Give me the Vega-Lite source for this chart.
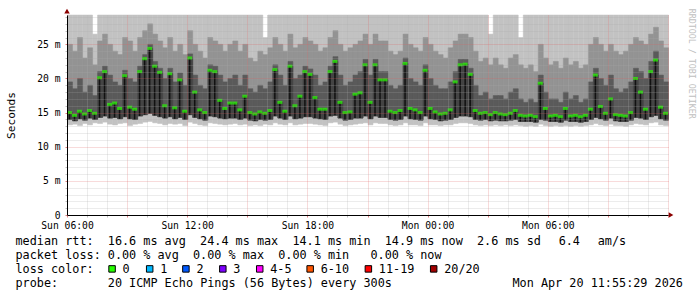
{
"$schema":"https://vega.github.io/schema/vega-lite/v6.json",
"width":601,"height":200,
"autosize":{"type":"none"},
"padding":{"left":67,"top":15,"right":29,"bottom":82},
"background":"white",
"config":{"view":{"stroke":null},"font":"DejaVu Sans Mono"},
"title":{"text":"RRDTOOL / TOBI OETIKER","orient":"right","anchor":"start","angle":90,"fontSize":8.3,"font":"DejaVu Sans Mono","fontWeight":"normal","color":"#c0c0c0","offset":5},
"datasets":{
"smoke":[
{"t":0,"m":15.0,"n":13.2,"a":14.0,"b":19.5,"c":25.0,"h":29.3},
{"t":0.25,"m":14.6,"n":13.3,"a":13.8,"b":18.5,"c":24.0,"h":29.3},
{"t":0.5,"m":15.2,"n":13.1,"a":14.1,"b":20.0,"c":26.0,"h":29.3},
{"t":0.75,"m":14.8,"n":13.4,"a":13.9,"b":18.0,"c":23.0,"h":29.3},
{"t":1,"m":15.3,"n":13.2,"a":14.2,"b":19.0,"c":24.5,"h":29.3},
{"t":1.25,"m":14.9,"n":13.5,"a":14.0,"b":17.5,"c":22.0,"h":26.5},
{"t":1.5,"m":20.1,"n":13.4,"a":14.3,"b":21.0,"c":25.5,"h":29.3},
{"t":1.75,"m":21.0,"n":13.6,"a":14.5,"b":21.8,"c":26.5,"h":29.3},
{"t":2,"m":16.2,"n":13.3,"a":14.2,"b":20.5,"c":25.0,"h":29.3},
{"t":2.25,"m":16.4,"n":13.2,"a":14.3,"b":19.5,"c":24.0,"h":29.3},
{"t":2.5,"m":15.6,"n":13.4,"a":14.1,"b":19.0,"c":23.5,"h":29.3},
{"t":2.75,"m":20.4,"n":13.5,"a":14.4,"b":21.2,"c":26.0,"h":29.3},
{"t":3,"m":15.8,"n":13.1,"a":14.1,"b":20.0,"c":25.5,"h":29.3},
{"t":3.25,"m":15.5,"n":13.3,"a":14.0,"b":19.5,"c":24.0,"h":29.3},
{"t":3.5,"m":21.0,"n":13.4,"a":14.5,"b":21.8,"c":26.0,"h":29.3},
{"t":3.75,"m":22.9,"n":13.6,"a":14.7,"b":23.5,"c":27.0,"h":29.3},
{"t":4,"m":24.4,"n":13.7,"a":14.9,"b":25.0,"c":28.0,"h":29.3},
{"t":4.25,"m":21.8,"n":13.5,"a":14.6,"b":22.5,"c":26.5,"h":29.3},
{"t":4.5,"m":20.9,"n":13.4,"a":14.4,"b":21.5,"c":25.5,"h":29.3},
{"t":4.75,"m":16.0,"n":13.2,"a":14.2,"b":20.0,"c":24.5,"h":29.3},
{"t":5,"m":20.7,"n":13.4,"a":14.4,"b":21.5,"c":26.0,"h":29.3},
{"t":5.25,"m":15.7,"n":13.3,"a":14.1,"b":19.5,"c":24.0,"h":29.3},
{"t":5.5,"m":19.8,"n":13.4,"a":14.3,"b":20.8,"c":25.0,"h":29.3},
{"t":5.75,"m":15.2,"n":13.1,"a":14.0,"b":19.0,"c":23.5,"h":29.3},
{"t":6,"m":23.0,"n":13.6,"a":14.7,"b":23.6,"c":27.0,"h":29.3},
{"t":6.25,"m":18.0,"n":13.4,"a":14.3,"b":20.5,"c":25.0,"h":29.3},
{"t":6.5,"m":15.4,"n":13.2,"a":14.1,"b":19.0,"c":24.0,"h":29.3},
{"t":6.75,"m":15.0,"n":13.1,"a":13.9,"b":18.5,"c":23.0,"h":29.3},
{"t":7,"m":21.2,"n":13.5,"a":14.5,"b":22.0,"c":26.0,"h":29.3},
{"t":7.25,"m":21.0,"n":13.4,"a":14.4,"b":21.8,"c":25.5,"h":29.3},
{"t":7.5,"m":16.8,"n":13.3,"a":14.2,"b":20.5,"c":25.0,"h":29.3},
{"t":7.75,"m":15.6,"n":13.2,"a":14.1,"b":19.5,"c":24.0,"h":29.3},
{"t":8,"m":16.4,"n":13.3,"a":14.2,"b":20.0,"c":25.0,"h":29.3},
{"t":8.25,"m":16.4,"n":13.4,"a":14.2,"b":20.5,"c":25.5,"h":29.3},
{"t":8.5,"m":15.4,"n":13.2,"a":14.0,"b":19.0,"c":24.0,"h":29.3},
{"t":8.75,"m":17.4,"n":13.3,"a":14.2,"b":20.5,"c":25.0,"h":29.3},
{"t":9,"m":15.0,"n":13.1,"a":13.9,"b":18.5,"c":23.0,"h":29.3},
{"t":9.25,"m":14.8,"n":13.2,"a":13.8,"b":18.0,"c":22.5,"h":29.3},
{"t":9.5,"m":15.1,"n":13.1,"a":14.0,"b":19.0,"c":24.0,"h":29.3},
{"t":9.75,"m":14.9,"n":13.3,"a":13.9,"b":18.5,"c":23.5,"h":26.0},
{"t":10,"m":15.3,"n":13.2,"a":14.0,"b":19.5,"c":24.5,"h":29.3},
{"t":10.25,"m":21.3,"n":13.5,"a":14.5,"b":22.0,"c":26.0,"h":29.3},
{"t":10.5,"m":16.5,"n":13.3,"a":14.2,"b":20.5,"c":25.0,"h":29.3},
{"t":10.75,"m":15.2,"n":13.2,"a":14.0,"b":19.0,"c":24.0,"h":29.3},
{"t":11,"m":21.8,"n":13.5,"a":14.5,"b":22.5,"c":26.5,"h":29.3},
{"t":11.25,"m":16.0,"n":13.2,"a":14.1,"b":20.0,"c":24.5,"h":29.3},
{"t":11.5,"m":17.4,"n":13.3,"a":14.2,"b":20.5,"c":25.0,"h":29.3},
{"t":11.75,"m":21.0,"n":13.4,"a":14.4,"b":21.8,"c":26.0,"h":29.3},
{"t":12,"m":20.6,"n":13.4,"a":14.4,"b":21.4,"c":25.5,"h":29.3},
{"t":12.25,"m":17.2,"n":13.3,"a":14.2,"b":20.5,"c":25.0,"h":29.3},
{"t":12.5,"m":15.5,"n":13.2,"a":14.1,"b":19.0,"c":24.0,"h":29.3},
{"t":12.75,"m":15.5,"n":13.1,"a":14.0,"b":19.5,"c":24.5,"h":29.3},
{"t":13,"m":21.0,"n":13.5,"a":14.5,"b":21.8,"c":26.0,"h":29.3},
{"t":13.25,"m":22.5,"n":13.6,"a":14.6,"b":23.2,"c":27.0,"h":29.3},
{"t":13.5,"m":16.5,"n":13.3,"a":14.2,"b":20.5,"c":25.0,"h":29.3},
{"t":13.75,"m":15.0,"n":13.1,"a":13.9,"b":19.0,"c":24.0,"h":29.3},
{"t":14,"m":15.1,"n":13.2,"a":14.0,"b":19.5,"c":24.5,"h":29.3},
{"t":14.25,"m":17.7,"n":13.3,"a":14.2,"b":20.5,"c":25.0,"h":29.3},
{"t":14.5,"m":17.9,"n":13.4,"a":14.2,"b":21.0,"c":25.5,"h":29.3},
{"t":14.75,"m":22.0,"n":13.5,"a":14.5,"b":22.8,"c":26.5,"h":29.3},
{"t":15,"m":16.5,"n":13.2,"a":14.1,"b":20.5,"c":25.0,"h":29.3},
{"t":15.25,"m":22.0,"n":13.5,"a":14.5,"b":22.8,"c":26.5,"h":29.3},
{"t":15.5,"m":19.8,"n":13.4,"a":14.3,"b":21.0,"c":25.5,"h":29.3},
{"t":15.75,"m":19.8,"n":13.4,"a":14.3,"b":21.0,"c":25.5,"h":29.3},
{"t":16,"m":15.2,"n":13.2,"a":14.0,"b":19.0,"c":24.0,"h":29.3},
{"t":16.25,"m":15.0,"n":13.1,"a":13.9,"b":18.5,"c":23.5,"h":29.3},
{"t":16.5,"m":15.3,"n":13.2,"a":14.0,"b":19.0,"c":24.0,"h":29.3},
{"t":16.75,"m":22.2,"n":13.5,"a":14.5,"b":23.0,"c":26.5,"h":29.3},
{"t":17,"m":15.6,"n":13.2,"a":14.1,"b":20.0,"c":25.0,"h":29.3},
{"t":17.25,"m":15.4,"n":13.2,"a":14.0,"b":19.5,"c":24.5,"h":29.3},
{"t":17.5,"m":15.0,"n":13.1,"a":13.9,"b":19.0,"c":24.0,"h":29.3},
{"t":17.75,"m":21.2,"n":13.5,"a":14.5,"b":22.0,"c":26.0,"h":29.3},
{"t":18,"m":15.6,"n":13.2,"a":14.1,"b":20.0,"c":25.0,"h":29.3},
{"t":18.25,"m":15.1,"n":13.2,"a":14.0,"b":19.0,"c":24.0,"h":29.3},
{"t":18.5,"m":14.8,"n":13.1,"a":13.8,"b":18.5,"c":23.5,"h":29.3},
{"t":18.75,"m":14.9,"n":13.2,"a":13.9,"b":18.5,"c":23.0,"h":29.3},
{"t":19,"m":15.4,"n":13.2,"a":14.0,"b":19.5,"c":24.5,"h":29.3},
{"t":19.25,"m":19.5,"n":13.4,"a":14.3,"b":21.0,"c":25.5,"h":29.3},
{"t":19.5,"m":22.0,"n":13.5,"a":14.5,"b":22.8,"c":26.5,"h":29.3},
{"t":19.75,"m":22.1,"n":13.5,"a":14.5,"b":22.8,"c":26.5,"h":29.3},
{"t":20,"m":20.6,"n":13.4,"a":14.4,"b":21.5,"c":26.0,"h":29.3},
{"t":20.25,"m":15.3,"n":13.2,"a":14.0,"b":19.0,"c":24.0,"h":29.3},
{"t":20.5,"m":14.9,"n":13.1,"a":13.9,"b":17.5,"c":22.5,"h":29.3},
{"t":20.75,"m":15.0,"n":13.2,"a":14.0,"b":18.0,"c":23.0,"h":29.3},
{"t":21,"m":14.7,"n":13.1,"a":13.8,"b":17.0,"c":22.0,"h":26.5},
{"t":21.25,"m":15.0,"n":13.2,"a":13.9,"b":17.5,"c":23.0,"h":29.3},
{"t":21.5,"m":14.8,"n":13.1,"a":13.8,"b":17.5,"c":22.0,"h":29.3},
{"t":21.75,"m":14.7,"n":13.2,"a":13.8,"b":17.0,"c":21.5,"h":29.3},
{"t":22,"m":14.9,"n":13.1,"a":13.9,"b":18.0,"c":23.0,"h":29.3},
{"t":22.25,"m":15.3,"n":13.2,"a":14.0,"b":18.5,"c":23.5,"h":29.3},
{"t":22.5,"m":14.6,"n":13.1,"a":13.7,"b":17.0,"c":22.0,"h":26.0},
{"t":22.75,"m":14.5,"n":13.0,"a":13.7,"b":16.5,"c":21.5,"h":29.3},
{"t":23,"m":14.6,"n":13.1,"a":13.7,"b":17.0,"c":22.0,"h":29.3},
{"t":23.25,"m":14.4,"n":13.0,"a":13.6,"b":16.5,"c":21.0,"h":29.3},
{"t":23.5,"m":19.3,"n":13.3,"a":14.0,"b":20.5,"c":25.0,"h":29.3},
{"t":23.75,"m":15.6,"n":13.1,"a":13.9,"b":18.0,"c":23.0,"h":29.3},
{"t":24,"m":14.5,"n":13.0,"a":13.7,"b":17.0,"c":22.0,"h":29.3},
{"t":24.25,"m":14.6,"n":13.1,"a":13.7,"b":17.0,"c":22.5,"h":29.3},
{"t":24.5,"m":14.4,"n":13.0,"a":13.6,"b":16.5,"c":21.5,"h":29.3},
{"t":24.75,"m":15.6,"n":13.1,"a":13.9,"b":18.0,"c":23.0,"h":29.3},
{"t":25,"m":14.5,"n":13.0,"a":13.7,"b":17.0,"c":22.0,"h":29.3},
{"t":25.25,"m":14.6,"n":13.1,"a":13.7,"b":17.5,"c":22.5,"h":29.3},
{"t":25.5,"m":14.4,"n":13.0,"a":13.6,"b":16.5,"c":21.5,"h":29.3},
{"t":25.75,"m":14.6,"n":13.1,"a":13.7,"b":17.0,"c":22.0,"h":29.3},
{"t":26,"m":15.5,"n":13.2,"a":14.0,"b":19.5,"c":25.0,"h":29.3},
{"t":26.25,"m":20.5,"n":13.4,"a":14.3,"b":21.5,"c":26.0,"h":29.3},
{"t":26.5,"m":15.9,"n":13.2,"a":14.1,"b":20.0,"c":25.0,"h":29.3},
{"t":26.75,"m":14.9,"n":13.1,"a":13.9,"b":19.0,"c":24.0,"h":29.3},
{"t":27,"m":17.0,"n":13.3,"a":14.2,"b":20.5,"c":25.0,"h":29.3},
{"t":27.25,"m":14.7,"n":13.1,"a":13.8,"b":18.5,"c":24.0,"h":29.3},
{"t":27.5,"m":14.6,"n":13.1,"a":13.7,"b":18.0,"c":23.5,"h":29.3},
{"t":27.75,"m":14.5,"n":13.0,"a":13.7,"b":18.5,"c":24.0,"h":29.3},
{"t":28,"m":15.0,"n":13.2,"a":13.9,"b":19.5,"c":25.0,"h":29.3},
{"t":28.25,"m":20.0,"n":13.4,"a":14.3,"b":21.5,"c":26.0,"h":29.3},
{"t":28.5,"m":18.0,"n":13.3,"a":14.2,"b":21.0,"c":25.5,"h":29.3},
{"t":28.75,"m":15.5,"n":13.2,"a":14.0,"b":20.0,"c":25.0,"h":29.3},
{"t":29,"m":21.0,"n":13.5,"a":14.4,"b":22.5,"c":26.5,"h":29.3},
{"t":29.25,"m":22.7,"n":13.6,"a":14.6,"b":24.0,"c":27.5,"h":29.3},
{"t":29.5,"m":15.8,"n":13.2,"a":14.1,"b":20.5,"c":25.5,"h":29.3},
{"t":29.75,"m":14.9,"n":13.1,"a":13.9,"b":19.5,"c":24.5,"h":29.3}
],
"legendText":[
{"row":1,"col":0,"s":"median rtt:"},
{"row":1,"col":13,"s":"16.6 ms avg"},
{"row":1,"col":26,"s":"24.4 ms max"},
{"row":1,"col":39,"s":"14.1 ms min"},
{"row":1,"col":52,"s":"14.9 ms now"},
{"row":1,"col":65,"s":"2.6 ms sd"},
{"row":1,"col":76.5,"s":"6.4"},
{"row":1,"col":82,"s":"am/s"},
{"row":2,"col":0,"s":"packet loss:"},
{"row":2,"col":13,"s":"0.00 % avg"},
{"row":2,"col":25,"s":"0.00 % max"},
{"row":2,"col":37,"s":"0.00 % min"},
{"row":2,"col":50,"s":"0.00 % now"},
{"row":3,"col":0,"s":"loss color:"},
{"row":4,"col":0,"s":"probe:"},
{"row":4,"col":13,"s":"20 ICMP Echo Pings (56 Bytes) every 300s"},
{"row":4,"col":70,"s":"Mon Apr 20 11:55:29 2026"}
],
"loss":[
{"row":3,"col":13.6,"label":"0"},
{"row":3,"col":18.9,"label":"1"},
{"row":3,"col":24.0,"label":"2"},
{"row":3,"col":29.2,"label":"3"},
{"row":3,"col":34.4,"label":"4-5"},
{"row":3,"col":41.5,"label":"6-10"},
{"row":3,"col":49.7,"label":"11-19"},
{"row":3,"col":58.9,"label":"20/20"}
]
},
"layer":[
{"data":{"name":"smoke"},
"mark":{"type":"bar","binSpacing":0,"color":"#c2c2c2","stroke":"#c2c2c2","strokeWidth":0.5},
"encoding":{
"x":{"field":"t","type":"quantitative","bin":{"step":0.25,"extent":[0,30]},
"scale":{"domain":[0,30],"nice":false,"zero":false},
"axis":{"values":[0,1,2,3,4,5,6,7,8,9,10,11,12,13,14,15,16,17,18,19,20,21,22,23,24,25,26,27,28,29,30],
"labelExpr":"datum.value % 6 === 0 && datum.value < 30 ? ['Sun 06:00','Sun 12:00','Sun 18:00','Mon 00:00','Mon 06:00'][datum.value/6] : ''",
"title":null,"grid":true,"gridDash":[1,1],"gridWidth":1,
"gridColor":{"condition":{"test":"datum.value % 3 === 0","value":"#e06060"},"value":"#a8a8a8"},
"gridOpacity":0.45,
"tickSize":2,"tickColor":{"condition":{"test":"datum.value % 3 === 0","value":"#e08080"},"value":"#c0c0c0"},
"domainColor":"#000000","domainWidth":1,
"labelFont":"DejaVu Sans Mono","labelFontSize":9.7,"labelColor":"#000000","labelPadding":3,
"labelOverlap":false,"labelFlush":false,"labelBound":false,"zindex":1}},
"y":{"field":"n","type":"quantitative","scale":{"domain":[0,29.3],"nice":false,"zero":false},
"axis":{"values":[0,1,2,3,4,5,6,7,8,9,10,11,12,13,14,15,16,17,18,19,20,21,22,23,24,25,26,27,28,29],
"labelExpr":"datum.value === 0 ? '0' : (datum.value % 5 === 0 ? datum.value + ' m' : '')",
"title":"Seconds","titleFont":"DejaVu Sans Mono","titleFontSize":11.1,"titleFontWeight":"normal","titleColor":"#000000",
"titleAngle":-90,"titleX":-56,"titleY":100,"titleAlign":"center","titleBaseline":"middle",
"grid":true,"gridDash":[1,1],"gridWidth":1,
"gridColor":{"condition":{"test":"datum.value % 5 === 0","value":"#e06060"},"value":"#a8a8a8"},
"gridOpacity":0.45,
"tickSize":2,"tickColor":{"condition":{"test":"datum.value % 5 === 0","value":"#e08080"},"value":"#c0c0c0"},
"domainColor":"#000000","domainWidth":1,
"labelFont":"DejaVu Sans Mono","labelFontSize":9.7,"labelColor":"#000000","labelPadding":5,
"labelOverlap":false,"labelBound":false,"zindex":1}},
"y2":{"field":"h"}}},
{"data":{"name":"smoke"},
"mark":{"type":"bar","binSpacing":0,"color":"#939393","stroke":"#939393","strokeWidth":0.5},
"encoding":{
"x":{"field":"t","type":"quantitative","bin":{"step":0.25,"extent":[0,30]},"scale":{"domain":[0,30],"nice":false,"zero":false},"axis":null},
"y":{"field":"a","type":"quantitative","scale":{"domain":[0,29.3],"nice":false,"zero":false},"axis":null},"y2":{"field":"c"}}},
{"data":{"name":"smoke"},
"mark":{"type":"bar","binSpacing":0,"color":"#5a5a5a","stroke":"#5a5a5a","strokeWidth":0.5},
"encoding":{
"x":{"field":"t","type":"quantitative","bin":{"step":0.25,"extent":[0,30]},"scale":{"domain":[0,30],"nice":false,"zero":false},"axis":null},
"y":{"field":"a","type":"quantitative","scale":{"domain":[0,29.3],"nice":false,"zero":false},"axis":null},"y2":{"field":"b"}}},
{"data":{"name":"smoke"},
"mark":{"type":"bar","binSpacing":0,"color":"#444444","stroke":"#444444","strokeWidth":0.5},
"encoding":{
"x":{"field":"t","type":"quantitative","bin":{"step":0.25,"extent":[0,30]},"scale":{"domain":[0,30],"nice":false,"zero":false},"axis":null},
"y":{"field":"a","type":"quantitative","scale":{"domain":[0,29.3],"nice":false,"zero":false},"axis":null},"y2":{"field":"m"}}},
{"data":{"name":"smoke"},
"mark":{"type":"rule","color":"#111111","strokeWidth":1.5},
"encoding":{
"x":{"field":"t","type":"quantitative","bin":{"step":0.25,"extent":[0,30]},"scale":{"domain":[0,30],"nice":false,"zero":false},"axis":null},
"y":{"field":"a","type":"quantitative","scale":{"domain":[0,29.3],"nice":false,"zero":false},"axis":null},"y2":{"field":"m"}}},
{"data":{"name":"smoke"},
"mark":{"type":"tick","orient":"horizontal","color":"#26ff00","thickness":3,"size":5},
"encoding":{
"x":{"field":"t","type":"quantitative","bin":{"step":0.25,"extent":[0,30]},"scale":{"domain":[0,30],"nice":false,"zero":false},"axis":null},
"y":{"field":"m","type":"quantitative","scale":{"domain":[0,29.3],"nice":false,"zero":false},"axis":null}}},
{"data":{"values":[{"t":30.15,"v":0}]},
"mark":{"type":"point","shape":"triangle-right","filled":true,"color":"#8b0000","size":30,"opacity":1},
"encoding":{"x":{"field":"t","type":"quantitative","scale":{"domain":[0,30],"nice":false,"zero":false},"axis":null},
"y":{"field":"v","type":"quantitative","scale":{"domain":[0,29.3],"nice":false,"zero":false},"axis":null}}},
{"data":{"values":[{"t":0,"v":29.85}]},
"mark":{"type":"point","shape":"triangle-up","filled":true,"color":"#8b0000","size":30,"opacity":1},
"encoding":{"x":{"field":"t","type":"quantitative","scale":{"domain":[0,30],"nice":false,"zero":false},"axis":null},
"y":{"field":"v","type":"quantitative","scale":{"domain":[0,29.3],"nice":false,"zero":false},"axis":null}}},
{"data":{"name":"legendText"},
"mark":{"type":"text","align":"left","baseline":"middle","font":"DejaVu Sans Mono","fontSize":11.8,"color":"#000000"},
"encoding":{
"x":{"field":"col","type":"quantitative","scale":{"domain":[0,100],"range":[-51.5,658.5],"nice":false,"zero":false},"axis":null},
"y":{"field":"row","type":"quantitative","scale":{"domain":[1,4],"range":[226.3,267.7],"nice":false,"zero":false},"axis":null},
"text":{"field":"s"}}},
{"data":{"name":"loss"},
"mark":{"type":"point","shape":"square","filled":true,"size":42,"stroke":"#000000","strokeWidth":1,"opacity":1},
"encoding":{
"x":{"field":"col","type":"quantitative","scale":{"domain":[0,100],"range":[-51.5,658.5],"nice":false,"zero":false},"axis":null},
"y":{"field":"row","type":"quantitative","scale":{"domain":[1,4],"range":[226.3,267.7],"nice":false,"zero":false},"axis":null},
"fill":{"field":"label","type":"nominal","scale":{"domain":["0","1","2","3","4-5","6-10","11-19","20/20"],"range":["#26ff00","#00b8ff","#0059ff","#7e00ff","#ff00ff","#ff5500","#ff0000","#a10000"]},"legend":null}}},
{"data":{"name":"loss"},
"mark":{"type":"text","align":"left","baseline":"middle","dx":10.5,"font":"DejaVu Sans Mono","fontSize":11.8,"color":"#000000"},
"encoding":{
"x":{"field":"col","type":"quantitative","scale":{"domain":[0,100],"range":[-51.5,658.5],"nice":false,"zero":false},"axis":null},
"y":{"field":"row","type":"quantitative","scale":{"domain":[1,4],"range":[226.3,267.7],"nice":false,"zero":false},"axis":null},
"text":{"field":"label"}}}
],
"resolve":{"scale":{"x":"independent","y":"independent"}}
}
